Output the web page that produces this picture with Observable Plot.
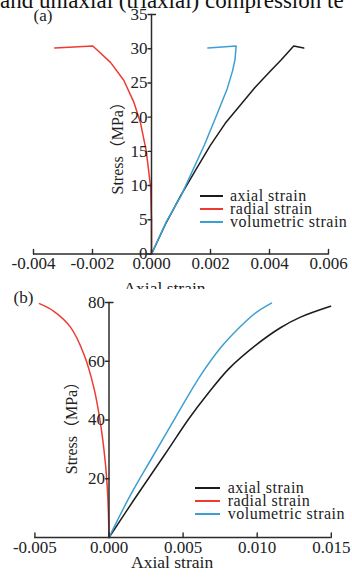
<!DOCTYPE html>
<html>
<head>
<meta charset="utf-8">
<script src="https://cdn.jsdelivr.net/npm/d3@7"></script>
<script src="https://cdn.jsdelivr.net/npm/@observablehq/plot@0.6"></script>
<style>
  body { margin: 0; background: white; }
  #root { position: relative; width: 352px; height: 577px; overflow: hidden; background: white; }
  .abs { position: absolute; left: 0; }
  #title { position: absolute; left: 0; top: -11px; font: 23px "Liberation Serif", serif; white-space: nowrap; line-height: 1; color: #111; }
  .leg { position: absolute; font: 16px "Liberation Serif", serif; letter-spacing: 0.5px; color: #222; }
  .row { height: 13px; display: flex; align-items: center; white-space: nowrap; }
  .sw { display: inline-block; height: 1.7px; }
</style>
</head>
<body>
<div id="root">
  <div id="pa" class="abs" style="top:0"></div>
  <div id="pb" class="abs" style="top:289px"></div>
  <div id="title">and uniaxial (triaxial) compression te</div>
  <div id="legA" class="leg" style="left:200px; top:189.5px"></div>
  <div id="legB" class="leg" style="left:195px; top:481.5px"></div>
</div>
<script>
// ---------- data ----------
const seriesNames = ["axial strain", "radial strain", "volumetric strain"];
const seriesColors = ["#1c1c1c", "#ee3b32", "#3d9fd2"];

// Panel (a)
const xTicksA = [-0.004, -0.002, 0, 0.002, 0.004, 0.006];
const yTicksA = [0, 5, 10, 15, 20, 25, 30, 35];
const axialStrainA = [0, 0.0005, 0.001, 0.0015, 0.002, 0.0025, 0.003, 0.0035, 0.004, 0.0044, 0.00482, 0.00516];
const axialStressA = [0, 4.6, 8.6, 12.3, 15.9, 19.1, 21.7, 24.3, 26.6, 28.4, 30.4, 30.1];
const radialStrainA = [0, 0, -0.00003, -0.00018, -0.00037, -0.0006, -0.00094, -0.00139, -0.00199, -0.00328];
const radialStressA = [0, 4.9, 9.8, 15.1, 19.1, 22.2, 25.4, 28.0, 30.4, 30.1];
const volStrainA = [0, 0.0005, 0.001, 0.0018, 0.0022, 0.00257, 0.00275, 0.00283, 0.00287, 0.00191];
const volStressA = [0, 4.7, 8.5, 16.0, 20.2, 24.2, 26.8, 28.4, 30.4, 30.1];

// Panel (b)
const xTicksB = [-0.005, 0, 0.005, 0.010, 0.015];
const yTicksB = [20, 40, 60, 80];
const axialStrainB = [0, 0.0018, 0.0038, 0.0054, 0.0066, 0.00808, 0.00989, 0.01157, 0.01292, 0.01495];
const axialStressB = [0, 13.7, 28.5, 40.5, 48.5, 57.4, 65.4, 71.4, 75, 78.7];
const radialStrainB = [0, -0.00001, -0.00008, -0.00024, -0.00057, -0.00103, -0.0017, -0.0026, -0.00372, -0.00469];
const radialStressB = [0, 2.6, 13.7, 25.1, 38.7, 51.2, 62.5, 71.6, 77, 79.6];
const volStrainB = [0, 0.0014, 0.0030, 0.0045, 0.00617, 0.0076, 0.0088, 0.0099, 0.01096];
const volStressB = [0, 14.0, 28.0, 41.0, 55.1, 65.0, 71.5, 76.5, 79.8];

// ---------- helpers ----------
function rows(name, xs, ys) { return xs.map((x, i) => ({s: name, x, y: ys[i]})); }
const tickShape = {draw(context, l) { context.moveTo(0, 0); context.lineTo(0, -l); }};
const axisColor = "#2e2a28";
const FONT = '"Liberation Serif","Noto Sans CJK SC",serif';

function panel(o) {
  const data = [
    ...rows(seriesNames[0], o.ax, o.ay),
    ...rows(seriesNames[1], o.rx, o.ry),
    ...rows(seriesNames[2], o.vx, o.vy)
  ];
  return Plot.plot({
    width: 352, height: o.height,
    marginLeft: o.ml, marginRight: o.mr, marginTop: o.mt, marginBottom: o.mb,
    x: {domain: o.xDomain, axis: null},
    y: {domain: o.yDomain, axis: null},
    color: {domain: seriesNames, range: seriesColors},
    style: {fontFamily: FONT, fontSize: "17px", background: "white", color: "#222"},
    marks: [
      Plot.line(data, {x: "x", y: "y", z: "s", stroke: "s", strokeWidth: 1.5, curve: o.curve}),
      Plot.ruleX([0], {y1: o.yDomain[0], y2: o.yDomain[1], stroke: axisColor, strokeWidth: 1.5}),
      Plot.ruleY([0], {x1: o.xDomain[0], x2: o.xDomain[1], stroke: axisColor, strokeWidth: 1.5}),
      Plot.vector(o.xTicks, {x: d => d, y: () => 0, length: 4.5, rotate: 0, anchor: "start", shape: tickShape, stroke: axisColor, strokeWidth: 1.4}),
      Plot.vector(o.yTicks, {x: () => 0, y: d => d, length: 3.5, rotate: 270, anchor: "start", shape: tickShape, stroke: axisColor, strokeWidth: 1.4}),
      Plot.vector([o.yDomain[1]], {x: () => 0, y: d => d, length: 4, rotate: 90, anchor: "start", shape: tickShape, stroke: axisColor, strokeWidth: 1.4}),
      Plot.text(o.xTicks, {x: d => d, y: () => 0, text: d => d.toFixed(3), lineAnchor: "top", dy: o.xTickDy, fill: "#222"}),
      Plot.text(o.yTicks, {x: () => 0, y: d => d, text: d => String(d), textAnchor: "end", lineAnchor: "middle", dx: -4, fill: "#222"}),
      Plot.text(["Stress（MPa）"], {x: () => 0, frameAnchor: "middle", rotate: -90, dx: o.yLabDx, dy: o.yLabDy, fontSize: 16, fill: "#222"}),
      Plot.text(["Axial strain"], {frameAnchor: "bottom", textAnchor: "middle", lineAnchor: "middle", dx: o.xLabDx, dy: o.xLabDy, fontSize: 17.5, fill: "#222"}),
      Plot.text([o.tag], {frameAnchor: "top-left", textAnchor: "start", lineAnchor: "middle", dx: o.tagDx, dy: o.tagDy, fontSize: 17, fill: "#222"})
    ]
  });
}

const pa = panel({
  height: 300, ml: 33, mr: 24, mt: 14, mb: 46.5,
  xDomain: [-0.004, 0.006], yDomain: [0, 35],
  xTicks: xTicksA, yTicks: yTicksA,
  ax: axialStrainA, ay: axialStressA, rx: radialStrainA, ry: radialStressA, vx: volStrainA, vy: volStressA,
  curve: "linear", xTickDy: 2.5, yLabDx: -33.5, yLabDy: 10, xLabDx: -16.5, xLabDy: 34,
  tag: "(a)", tagDx: 0, tagDy: 1
});
document.getElementById("pa").appendChild(pa);

const pb = panel({
  height: 288, ml: 34.4, mr: 21.2, mt: 13, mb: 40,
  xDomain: [-0.005, 0.015], yDomain: [0, 80],
  xTicks: xTicksB, yTicks: yTicksB,
  ax: axialStrainB, ay: axialStressB, rx: radialStrainB, ry: radialStressB, vx: volStrainB, vy: volStressB,
  curve: "catmull-rom", xTickDy: 3.8, yLabDx: -37.5, yLabDy: 4, xLabDx: -11, xLabDy: 24.6,
  tag: "(b)", tagDx: -21.4, tagDy: -5
});
document.getElementById("pb").appendChild(pb);

function legend(id, swW, gap) {
  const el = document.getElementById(id);
  seriesNames.forEach((n, i) => {
    const r = document.createElement("div");
    r.className = "row";
    const sw = document.createElement("span");
    sw.className = "sw";
    sw.style.width = swW + "px";
    sw.style.marginRight = gap + "px";
    sw.style.backgroundColor = seriesColors[i];
    const t = document.createElement("span");
    t.textContent = n;
    r.appendChild(sw); r.appendChild(t);
    el.appendChild(r);
  });
}
legend("legA", 23, 7);
legend("legB", 25, 7.7);
</script>
</body>
</html>
